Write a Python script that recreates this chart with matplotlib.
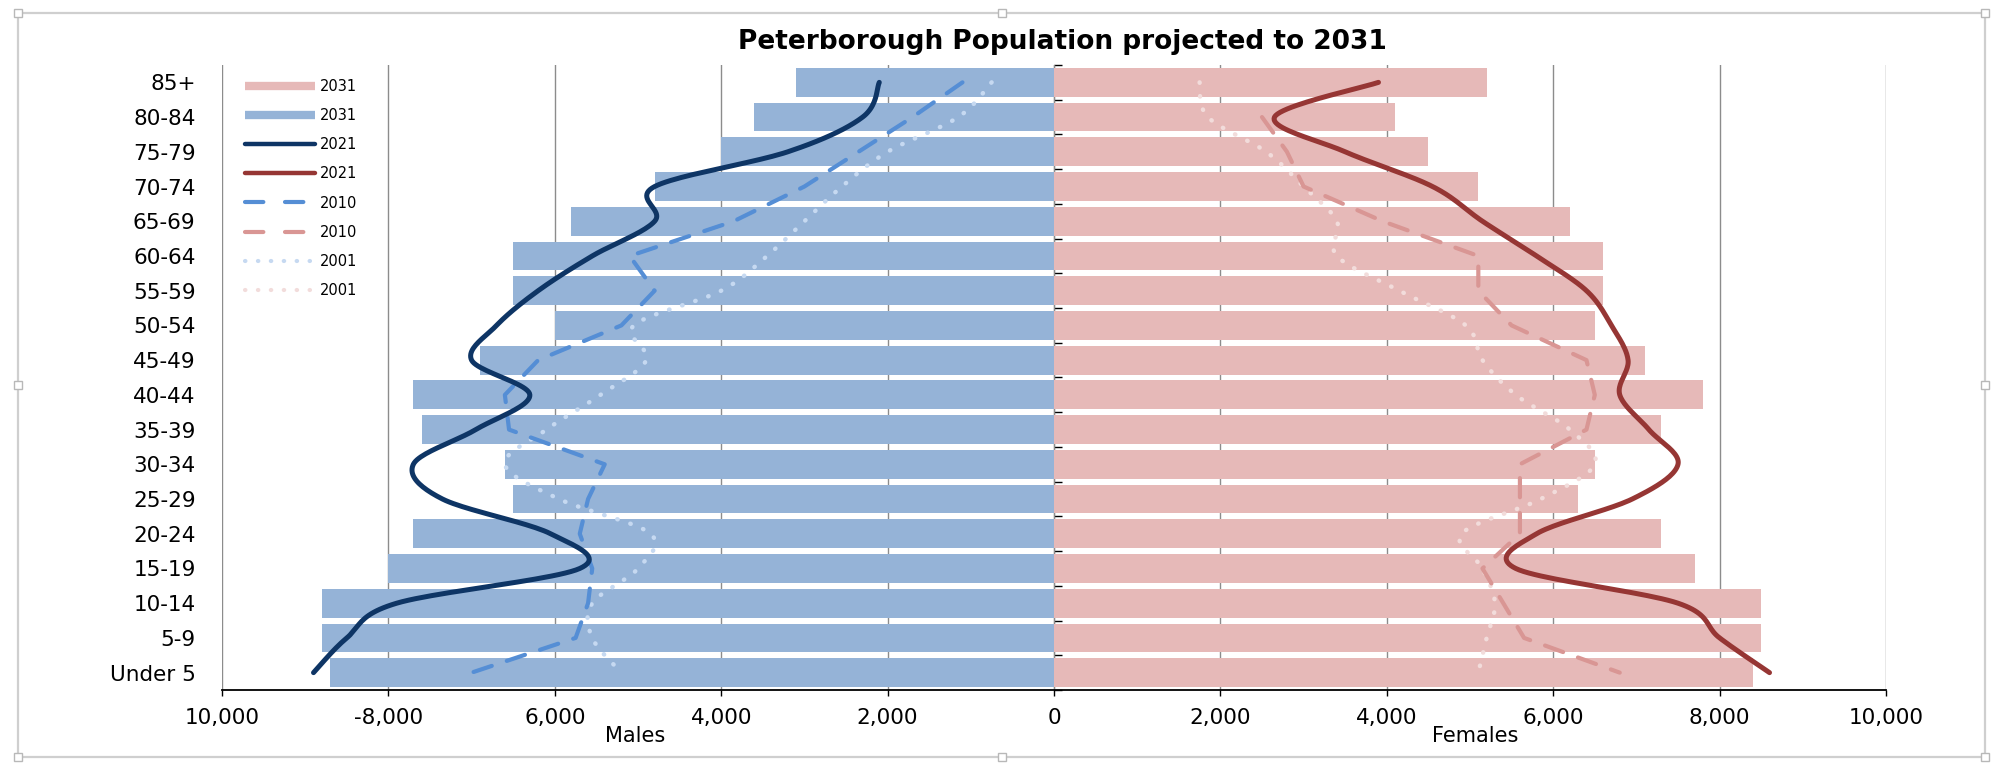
import numpy as np
import matplotlib
matplotlib.use('Agg')
import matplotlib.pyplot as plt
from matplotlib.lines import Line2D
from matplotlib.patches import Rectangle

# age bands, top of the pyramid first
ages = ['85+', '80-84', '75-79', '70-74', '65-69', '60-64', '55-59', '50-54', '45-49',
        '40-44', '35-39', '30-34', '25-29', '20-24', '15-19', '10-14', '5-9', 'Under 5']

# 2031 projection (bars)
males_2031 = [3100, 3600, 4000, 4800, 5800, 6500, 6500, 6000, 6900,
              7700, 7600, 6600, 6500, 7700, 8000, 8800, 8800, 8700]
females_2031 = [5200, 4100, 4500, 5100, 6200, 6600, 6600, 6500, 7100,
                7800, 7300, 6500, 6300, 7300, 7700, 8500, 8500, 8400]

# 2021 projection
males_2021 = [2100, 2300, 3200, 4800, 4800, 5550, 6200, 6700, 7000,
              6300, 6950, 7700, 7350, 6050, 5700, 7900, 8500, 8900]
females_2021 = [3900, 2650, 3500, 4550, 5150, 5800, 6400, 6700, 6900,
                6800, 7150, 7500, 6950, 5800, 5550, 7500, 8000, 8600]

# 2010 estimate
males_2010 = [1100, 1700, 2350, 3000, 3850, 5100, 4800, 5200, 6200,
              6600, 6550, 5400, 5600, 5700, 5550, 5600, 5750, 7000]
females_2010 = [np.nan, 2500, 2800, 3000, 3950, 5100, 5100, 5500, 6400,
                6500, 6400, 5600, 5600, 5600, 5150, 5400, 5650, 6800]

# 2001 census
males_2001 = [750, 1150, 2000, 2550, 3000, 3450, 4000, 5050, 4900,
              5450, 6100, 6600, 5950, 4850, 5000, 5550, 5550, 5200]
females_2001 = [1750, 1850, 2550, 3000, 3400, 3400, 4150, 4950, 5150,
                5550, 6200, 6500, 5850, 4900, 5150, 5300, 5200, 5100]

x_ticks = list(range(-10000, 10001, 2000))
x_tick_labels = ['10,000', '-8,000', '6,000', '4,000', '2,000', '0',
                 '2,000', '4,000', '6,000', '8,000', '10,000']

W, H = 2001, 763

c_male_bar = '#95b3d7'
c_female_bar = '#e6b9b8'
c_male_21 = '#0e3565'
c_female_21 = '#963634'
c_male_10 = '#558ed5'
c_female_10 = '#d99694'
c_male_01 = '#c6d9f1'
c_female_01 = '#f2dcdb'

DOTS = (0.1, 3.0)
DASHES = (4.6, 3.8)


def smooth(xs, steps=24):
    # bezier smoothing through every point (like Excel's "smoothed line")
    v = np.asarray(xs, dtype=float)
    idx = np.where(~np.isnan(v))[0]
    P = np.column_stack([v[idx], idx.astype(float)])
    out = [P[:1]]
    t = np.linspace(0, 1, steps)[1:, None]
    for i in range(len(P) - 1):
        p0 = P[max(i - 1, 0)]
        p1, p2 = P[i], P[i + 1]
        p3 = P[min(i + 2, len(P) - 1)]
        c1 = p1 + (p2 - p0) / 6
        c2 = p2 - (p3 - p1) / 6
        seg = (1 - t) ** 3 * p1 + 3 * (1 - t) ** 2 * t * c1 + 3 * (1 - t) * t ** 2 * c2 + t ** 3 * p2
        out.append(seg)
    pts = np.vstack(out)
    return pts[:, 0], pts[:, 1]


fig = plt.figure(figsize=(W / 100, H / 100), dpi=100)
ax = fig.add_axes([222 / W, 1 - 690 / H, (1886 - 222) / W, (690 - 65) / H])

y = np.arange(len(ages))
ax.barh(y, -np.array(males_2031), height=0.83, color=c_male_bar, zorder=2)
ax.barh(y, females_2031, height=0.83, color=c_female_bar, zorder=2)

# 2001 dotted
sx, sy = smooth(-np.array(males_2001, dtype=float))
ax.plot(sx, sy, color=c_male_01, lw=3.2, dashes=DOTS, dash_capstyle='round', zorder=3)
sx, sy = smooth(females_2001)
ax.plot(sx, sy, color=c_female_01, lw=3.2, dashes=DOTS, dash_capstyle='round', zorder=3)

# 2010 dashed (straight segments)
ax.plot(-np.array(males_2010, dtype=float), y, color=c_male_10, lw=3, dashes=DASHES,
        dash_capstyle='round', zorder=4)
ax.plot(females_2010, y, color=c_female_10, lw=3, dashes=DASHES,
        dash_capstyle='round', zorder=4)

# 2021 smooth solid
sx, sy = smooth(-np.array(males_2021, dtype=float))
ax.plot(sx, sy, color=c_male_21, lw=3.6, solid_capstyle='round', zorder=5)
sx, sy = smooth(females_2021)
ax.plot(sx, sy, color=c_female_21, lw=3.6, solid_capstyle='round', zorder=5)

ax.set_xlim(-10000, 10000)
ax.set_ylim(len(ages) - 0.5, -0.5)

ax.set_xticks(x_ticks, x_tick_labels)
ax.set_yticks(y, ages)
ax.tick_params(axis='x', length=4, width=1, direction='out', labelsize=15.5, pad=9)
ax.tick_params(axis='y', length=0, labelsize=15.5, pad=19)

ax.set_axisbelow(True)
ax.grid(axis='x', color='#8c8c8c', lw=1, zorder=0)
for side in ['left', 'right', 'top']:
    ax.spines[side].set_visible(False)
ax.spines['bottom'].set_linewidth(1.3)

# category axis through zero with ticks between the bands
zero_axis = ax.secondary_yaxis(0.5)
zero_axis.set_yticks(np.arange(-0.5, len(ages), 1.0))
zero_axis.set_yticklabels([])
zero_axis.tick_params(length=6, width=1, direction='out')
zero_axis.spines['left'].set_linewidth(1.3)

handles = [
    Line2D([], [], color=c_female_bar, lw=6, solid_capstyle='butt'),
    Line2D([], [], color=c_male_bar, lw=6, solid_capstyle='butt'),
    Line2D([], [], color=c_male_21, lw=3.2, solid_capstyle='round'),
    Line2D([], [], color=c_female_21, lw=3.2, solid_capstyle='round'),
    Line2D([], [], color=c_male_10, lw=3, dashes=(4.4, 5.2), dash_capstyle='round'),
    Line2D([], [], color=c_female_10, lw=3, dashes=(4.4, 5.2), dash_capstyle='round'),
    Line2D([], [], color=c_male_01, lw=3, dashes=DOTS, dash_capstyle='round'),
    Line2D([], [], color=c_female_01, lw=3, dashes=DOTS, dash_capstyle='round'),
]
labels = ['2031', '2031', '2021', '2021', '2010', '2010', '2001', '2001']
fig.legend(handles, labels, loc='upper left', bbox_to_anchor=(245 / W, 1 - 79 / H),
           frameon=False, fontsize=10.5, handlelength=4.8, handletextpad=0.35,
           labelspacing=0.97, borderpad=0, borderaxespad=0)

fig.text(1062 / W, 1 - 42 / H, 'Peterborough Population projected to 2031',
         ha='center', va='center', fontsize=19, fontweight='bold')
fig.text(635 / W, 1 - 736 / H, 'Males', ha='center', va='center', fontsize=15)
fig.text(1475 / W, 1 - 736 / H, 'Females', ha='center', va='center', fontsize=15)

# chart-area border with selection handles
x0, y0, x1, y1 = 18 / W, 1 - 757 / H, 1985 / W, 1 - 13 / H
fig.add_artist(Rectangle((x0, y0), x1 - x0, y1 - y0, transform=fig.transFigure,
                         fill=False, edgecolor='#cfcfcf', lw=1.6))
hw, hh = 8 / W, 8 / H
for hx in [x0, (x0 + x1) / 2, x1]:
    for hy in [y0, (y0 + y1) / 2, y1]:
        if hx == (x0 + x1) / 2 and hy == (y0 + y1) / 2:
            continue
        fig.add_artist(Rectangle((hx - hw / 2, hy - hh / 2), hw, hh, transform=fig.transFigure,
                                 facecolor='white', edgecolor='#b8b8b8', lw=1))

fig.savefig('out.png', dpi=100, facecolor='white')
